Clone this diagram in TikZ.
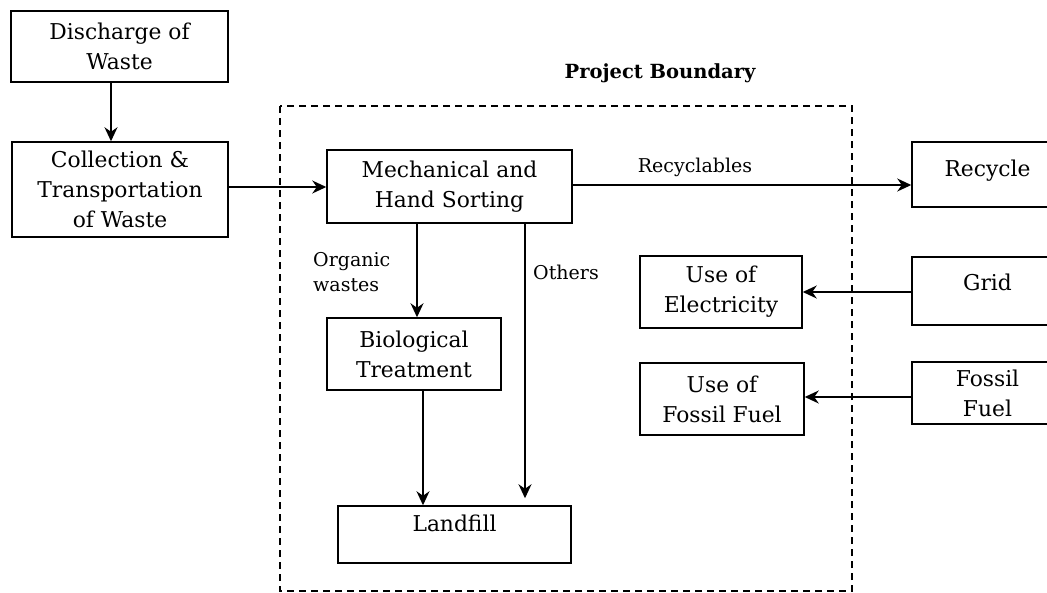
\documentclass[tikz,border=0pt]{standalone}
\usepackage{fontspec}
\setmainfont{DejaVu Serif}
\usetikzlibrary{arrows.meta}
\newcommand{\up}[2]{\raisebox{#1}[\height][\depth]{#2}}
\begin{document}
\begin{tikzpicture}[x=1pt,y=-1pt,
  box/.style={draw,line width=1.5pt,inner sep=0pt,align=center,font=\fontsize{21.8}{30}\selectfont},
  lbl/.style={inner sep=0pt,font=\fontsize{19}{25}\selectfont},
  arr/.style={line width=1.5pt,-{Stealth[length=14pt,width=13pt,inset=4.5pt]}}]
\clip (0,0) rectangle (1047,592);
\fill[white] (0,0) rectangle (1047,592);
% project boundary
\draw[line width=1.4pt,dash pattern=on 7pt off 5pt] (280,106) rectangle (852,591);
\node[inner sep=0pt,font=\fontsize{19.5}{24}\selectfont\bfseries] (pb) at (660,73) {Project Boundary};
% boxes
\node[box,minimum width=217pt,minimum height=71pt] (discharge) at (119.5,46.5) {Discharge of\\Waste};
\node[box,minimum width=216pt,minimum height=95pt] (collection) at (120,189.5) {Collection \&\\Transportation\\of Waste};
\node[box,minimum width=245pt,minimum height=73pt] (mech) at (449.5,186.5) {Mechanical and\\Hand Sorting};
\node[box,minimum width=174pt,minimum height=72pt] (bio) at (414,354) {Biological\\Treatment};
\node[box,minimum width=233pt,minimum height=57pt] (landfill) at (454.5,534.5) {\up{11pt}{Landfill}};
\node[box,minimum width=151pt,minimum height=65pt] (recycle) at (987.5,174.5) {\up{4pt}{Recycle}};
\node[box,minimum width=151pt,minimum height=68pt] (grid) at (987.5,291) {\up{9pt}{Grid}};
\node[box,minimum width=151pt,minimum height=62pt] (fossil) at (987.5,393) {Fossil\\Fuel};
\node[box,minimum width=162pt,minimum height=72pt] (elec) at (721,292) {Use of\\Electricity};
\node[box,minimum width=164pt,minimum height=72pt] (usefossil) at (722,399) {Use of\\Fossil Fuel};
% labels
\node[lbl] (lrec) at (695,167) {Recyclables};
\node[lbl,align=left,anchor=west] (lorg) at (313,272) {Organic\\wastes};
\node[lbl] (loth) at (566,272) {Others};
% connectors
\draw[arr] (discharge.south -| 111,0) -- (collection.north -| 111,0);
\draw[arr] (collection.east |- 0,187) -- (mech.west |- 0,187);
\draw[arr] (mech.east |- 0,185) -- (recycle.west |- 0,185);
\draw[arr] (mech.south -| 417,0) -- (bio.north -| 417,0);
\draw[arr,shorten >=7pt] (mech.south -| 525,0) -- (landfill.north -| 525,0);
\draw[arr] (bio.south -| 423,0) -- (landfill.north -| 423,0);
\draw[arr] (grid.west |- 0,292) -- (elec.east |- 0,292);
\draw[arr] (fossil.west |- 0,397) -- (usefossil.east |- 0,397);
\end{tikzpicture}
\end{document}
